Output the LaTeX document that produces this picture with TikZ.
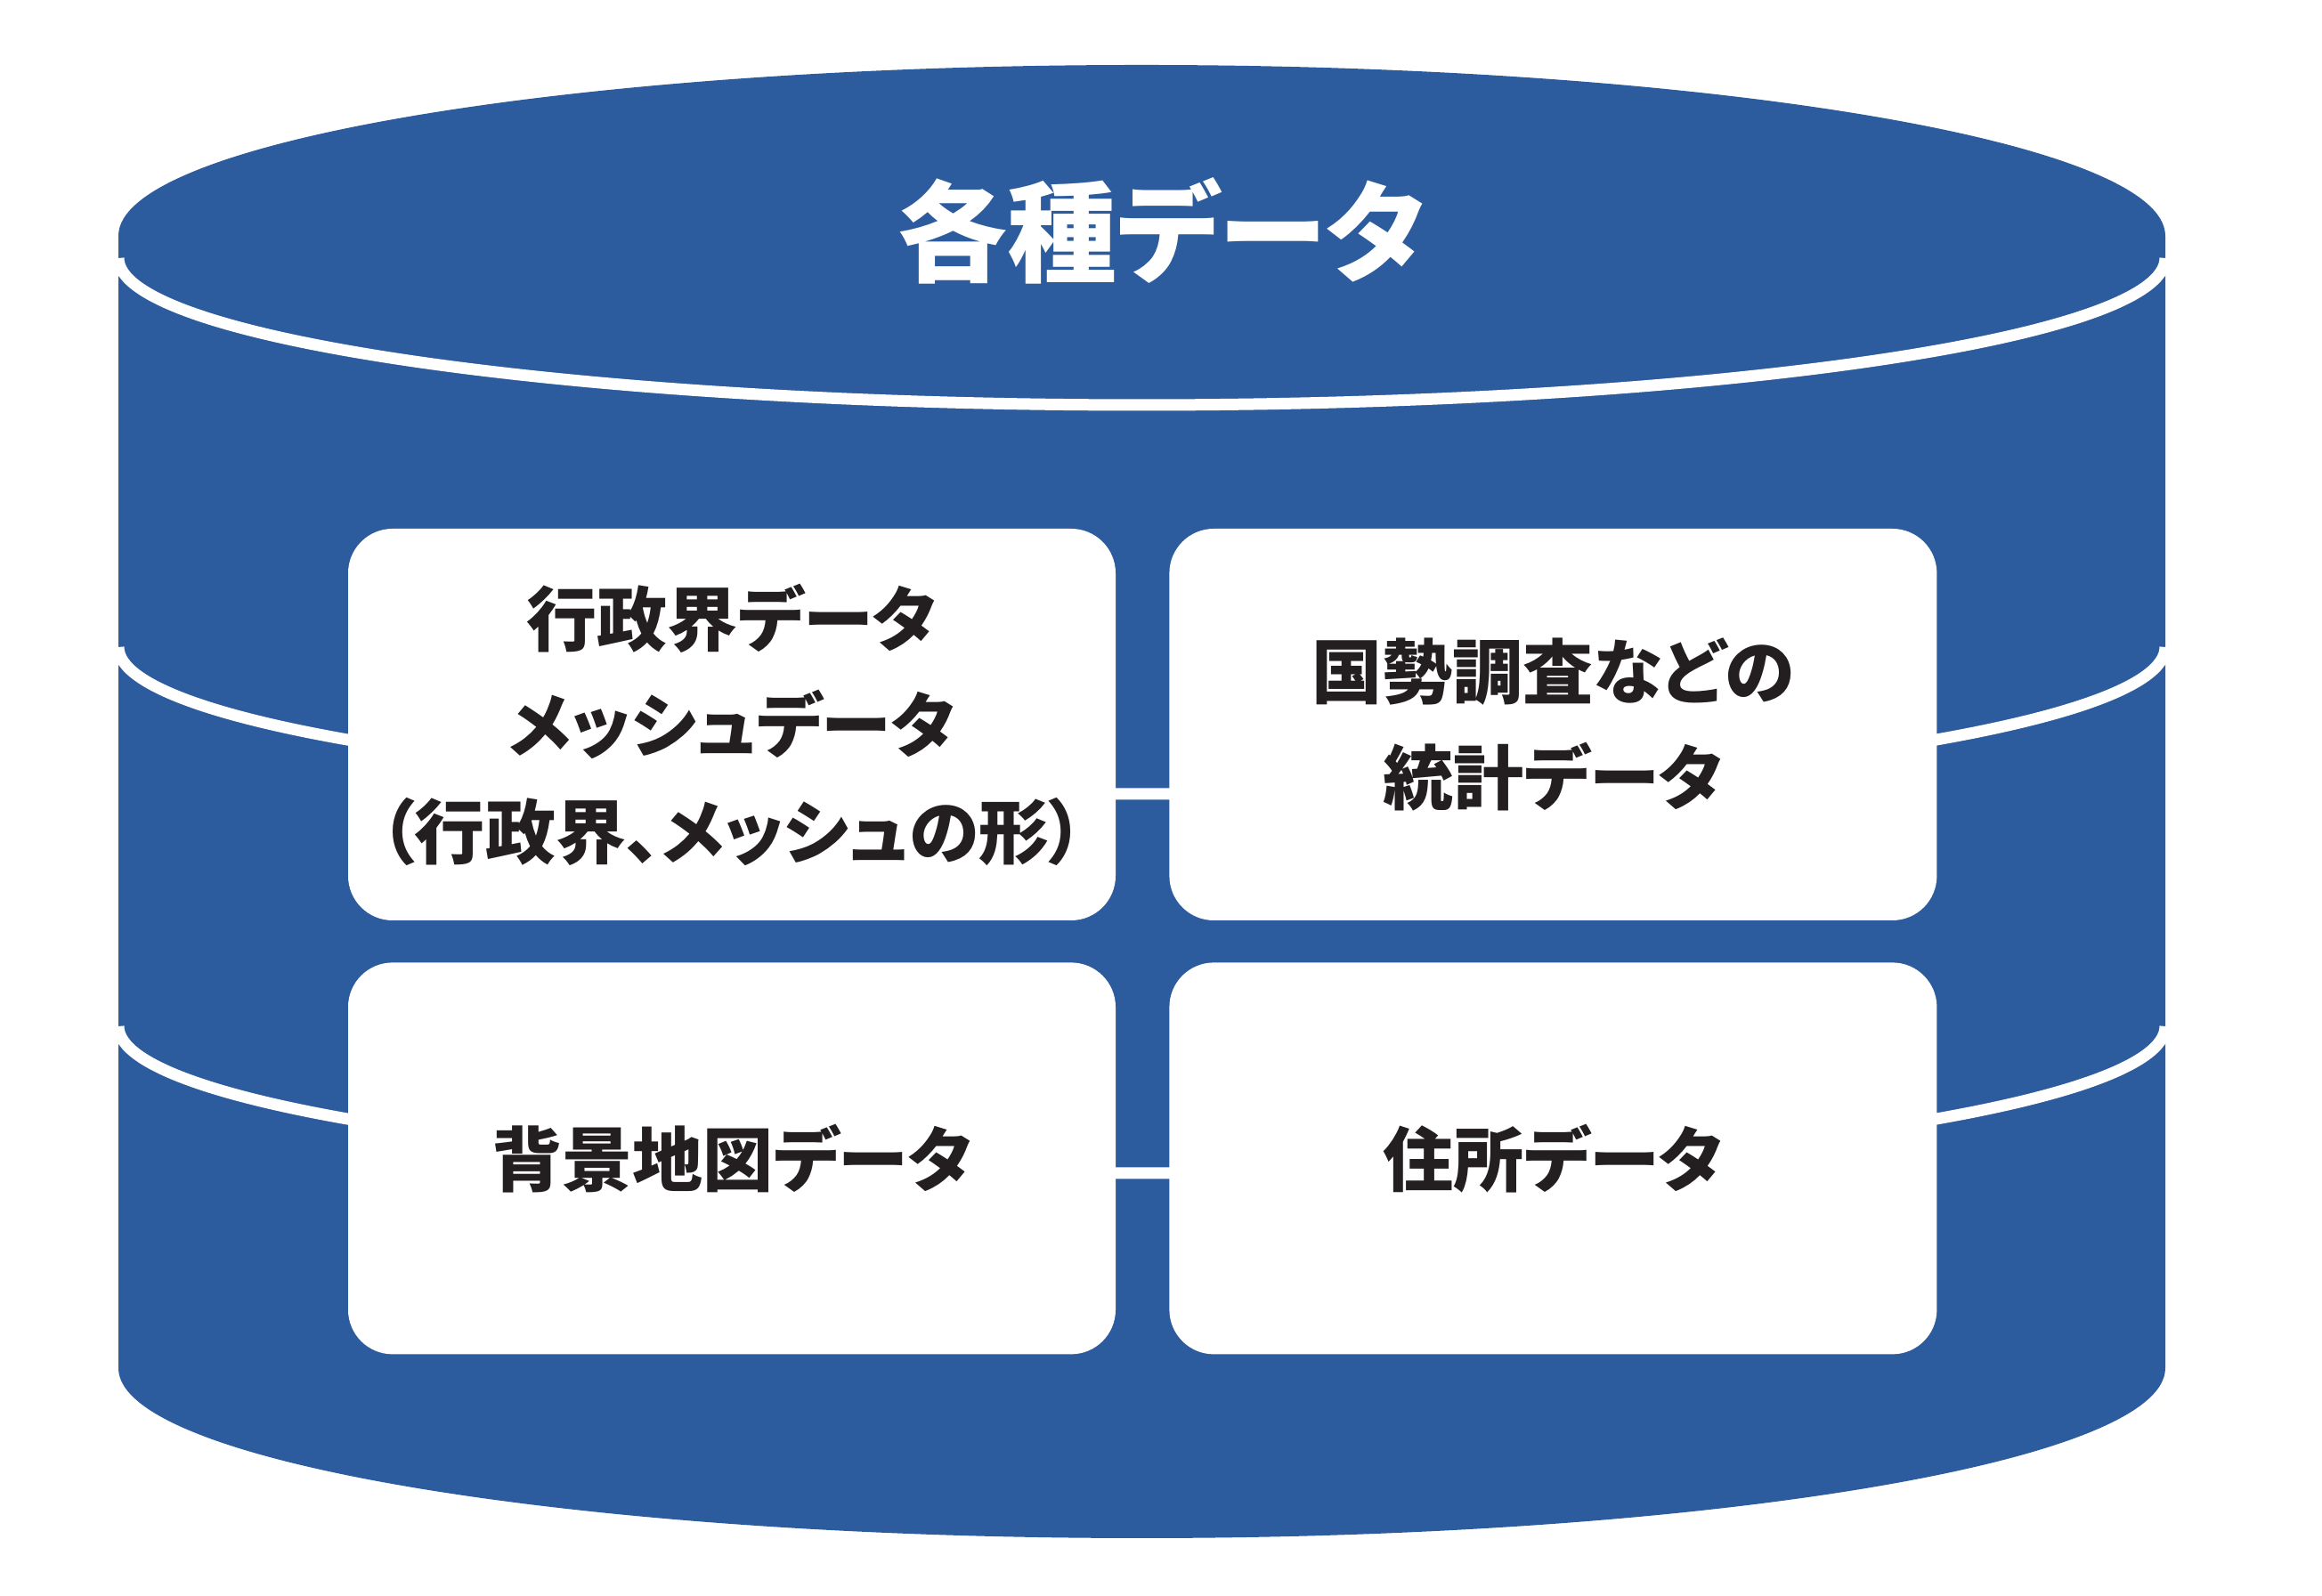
\documentclass[tikz,border=0pt]{standalone}
\usepackage{fontspec}
\newfontfamily\jpfont{Noto Sans CJK JP}[RawFeature=+palt]
\usetikzlibrary{positioning}
\definecolor{dbblue}{HTML}{2C5C9D}
\definecolor{inkblack}{HTML}{231F20}

\begin{document}
\begin{tikzpicture}[
    cylbody/.style={fill=dbblue, draw=none},
    band/.style={draw=white, line width=0.13cm},
    databox/.style={fill=white, rounded corners=0.5cm, minimum width=8.62cm, minimum height=4.4cm, inner sep=0pt, align=center, text=inkblack, font=\jpfont\bfseries\fontsize{22.5}{34}\selectfont},
    title/.style={text=white, font=\jpfont\bfseries\fontsize{35}{40}\selectfont},
]

% Canvas
\useasboundingbox (0,0) rectangle (26.08,17.93);

% Cylinder body
\fill[cylbody] (1.33,15.28) arc[start angle=180, end angle=0, x radius=11.495cm, y radius=1.92cm]
  -- (24.32,2.56) arc[start angle=0, end angle=-180, x radius=11.495cm, y radius=1.91cm] -- cycle;

% Band lines
\foreach \y in {15.03,10.66,6.40}
  \draw[band] (1.33,\y) arc[start angle=180, end angle=360, x radius=11.495cm, y radius=1.65cm];

% Data boxes
\node[databox] (gyosei) at (8.22,9.79) {行政界データ\\メッシュデータ\\（行政界、メッシュの形）};
\node[databox, right=0.59cm of gyosei] (tokei) {国勢調査などの\\統計データ};
\node[databox, below=0.46cm of gyosei] (haikei) {背景地図データ};
\node[databox, right=0.59cm of haikei] (jusho) {住所データ};

% Title
\node[title] (kakushu) at (13.05,15.34) {各種データ};

\end{tikzpicture}
\end{document}
